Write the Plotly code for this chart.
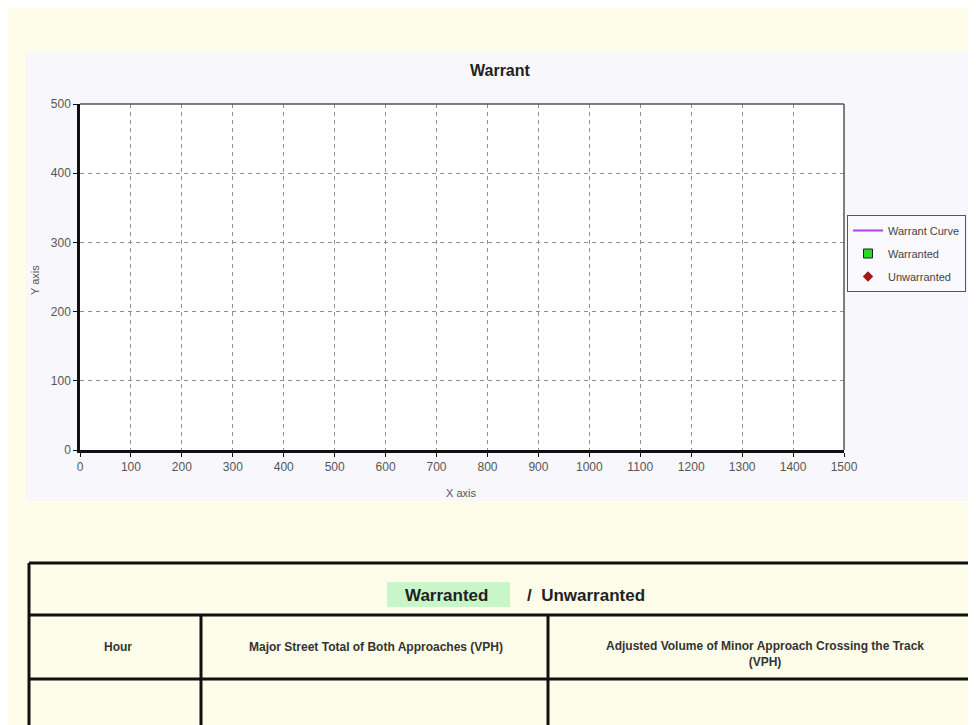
import plotly.graph_objects as go

# ---- data (the reference chart contains no plotted points) ----
curve_major = []
curve_minor = []
warranted_major = []
warranted_minor = []
unwarranted_major = []
unwarranted_minor = []

x_ticks = [0, 100, 200, 300, 400, 500, 600, 700, 800, 900, 1000, 1100, 1200, 1300, 1400, 1500]
y_ticks = [0, 100, 200, 300, 400, 500]

chart_title = "Warrant"
x_title = "X axis"
y_title = "Y axis"
series_names = ["Warrant Curve", "Warranted", "Unwarranted"]
table_status = ["Warranted", "Unwarranted"]
table_headers = [
    "Hour",
    "Major Street Total of Both Approaches (VPH)",
    "Adjusted Volume of Minor Approach Crossing the Track<br>(VPH)",
]


def or_gap(values):
    # an empty series still needs one missing point so that it keeps its legend entry
    return list(values) if len(values) else [None]


# ---- layout helpers (screen pixels -> paper coords); page body has 8px margin ----
OFF = 8
FW, FH = 984, 717
L, R, T, B = 80, 844, 104, 450


def px(x):
    return (x - L) / (R - L)


def py(y):
    return (B - y) / (B - T)


YELLOW = "#fefde9"
PANEL = "#f8f8fc"
FONT = "Liberation Sans, Arial, sans-serif"

fig = go.Figure()
fig.add_trace(go.Scatter(x=or_gap(curve_major), y=or_gap(curve_minor), mode="lines", name=series_names[0],
                         line=dict(color="#b23ee6", width=2), legendgroup="g1"))
fig.add_trace(go.Scatter(x=or_gap(warranted_major), y=or_gap(warranted_minor), mode="markers",
                         name=series_names[1],
                         marker=dict(symbol="square", color="#22dd22", size=9,
                                     line=dict(color="#222222", width=1)), legendgroup="g2"))
fig.add_trace(go.Scatter(x=or_gap(unwarranted_major), y=or_gap(unwarranted_minor), mode="markers",
                         name=series_names[2],
                         marker=dict(symbol="diamond", color="#a01818", size=8), legendgroup="g3"))

axis_common = dict(
    showgrid=True, gridcolor="#8f8f8f", griddash="4px,4px", gridwidth=1,
    showline=True, linecolor="#111111", linewidth=2.5,
    ticks="outside", ticklen=4, tickcolor="#111111", tickwidth=1,
    tickfont=dict(family=FONT, size=12, color="#555555"),
    zeroline=False, fixedrange=True,
)
fig.update_xaxes(range=[0, 1500], tickvals=x_ticks, ticktext=[str(v) for v in x_ticks], **axis_common)
fig.update_yaxes(range=[0, 500], tickvals=y_ticks, ticktext=[str(v) for v in y_ticks], **axis_common)

shapes = [
    # chart panel
    dict(type="rect", xref="paper", yref="paper", x0=px(26), x1=px(974), y0=py(52), y1=py(501),
         fillcolor=PANEL, line=dict(width=0), layer="below"),
    # plot area
    dict(type="rect", xref="paper", yref="paper", x0=0, x1=1, y0=0, y1=1,
         fillcolor="white", line=dict(width=0), layer="below"),
    # top and right frame
    dict(type="line", xref="paper", yref="paper", x0=0, x1=1, y0=1, y1=1,
         line=dict(color="#555555", width=1.5)),
    dict(type="line", xref="paper", yref="paper", x0=1, x1=1, y0=0, y1=1,
         line=dict(color="#555555", width=1.5)),
    # green highlight in table title
    dict(type="rect", xref="paper", yref="paper", x0=px(387), x1=px(510), y0=py(582), y1=py(607),
         fillcolor="#c8f6c8", line=dict(width=0), layer="below"),
]
TL = dict(color="#111111", width=3)
for yy in [563, 615, 679]:
    shapes.append(dict(type="line", xref="paper", yref="paper", x0=px(29), x1=px(1000),
                       y0=py(yy), y1=py(yy), line=TL))
shapes.append(dict(type="line", xref="paper", yref="paper", x0=px(29), x1=px(29),
                   y0=py(563), y1=py(740), line=TL))
for xx in [201, 548]:
    shapes.append(dict(type="line", xref="paper", yref="paper", x0=px(xx), x1=px(xx),
                       y0=py(615), y1=py(740), line=TL))

annotations = [
    dict(text="<b>" + chart_title + "</b>", x=px(500), y=py(70), xref="paper", yref="paper",
         showarrow=False, xanchor="center", yanchor="middle",
         font=dict(family=FONT, size=16, color="#222222")),
    dict(text=y_title, x=px(35), y=py(280), xref="paper", yref="paper", textangle=-90,
         showarrow=False, xanchor="center", yanchor="middle",
         font=dict(family=FONT, size=11, color="#555555")),
    dict(text=x_title, x=px(461), y=py(493), xref="paper", yref="paper",
         showarrow=False, xanchor="center", yanchor="middle",
         font=dict(family=FONT, size=11, color="#555555")),
    dict(text="<b>" + table_status[0] + "</b>", x=px(446), y=py(595), xref="paper", yref="paper",
         showarrow=False, xanchor="center", yanchor="middle",
         font=dict(family=FONT, size=17, color="#222222")),
    dict(text="<b>/  " + table_status[1] + "</b>", x=px(525), y=py(595), xref="paper", yref="paper",
         showarrow=False, xanchor="left", yanchor="middle",
         font=dict(family=FONT, size=17, color="#222222")),
]
for (ax, ay), txt in zip([(118, 647), (376, 647), (765, 654)], table_headers):
    annotations.append(dict(text="<b>" + txt + "</b>", x=px(ax), y=py(ay), xref="paper", yref="paper",
                            showarrow=False, xanchor="center", yanchor="middle",
                            font=dict(family=FONT, size=12, color="#333333")))

fig.update_layout(
    width=FW, height=FH, autosize=False,
    margin=dict(l=L - OFF, r=OFF + FW - R, t=T - OFF, b=OFF + FH - B, pad=0),
    paper_bgcolor=YELLOW, plot_bgcolor="white",
    showlegend=True,
    legend=dict(x=px(847), y=py(215), xanchor="left", yanchor="top",
                bgcolor="#fafafe", bordercolor="#555555", borderwidth=1,
                font=dict(family=FONT, size=11, color="#444444"),
                tracegroupgap=4, itemwidth=30),
    shapes=shapes,
    annotations=annotations,
)

fig.write_html("out.html")
